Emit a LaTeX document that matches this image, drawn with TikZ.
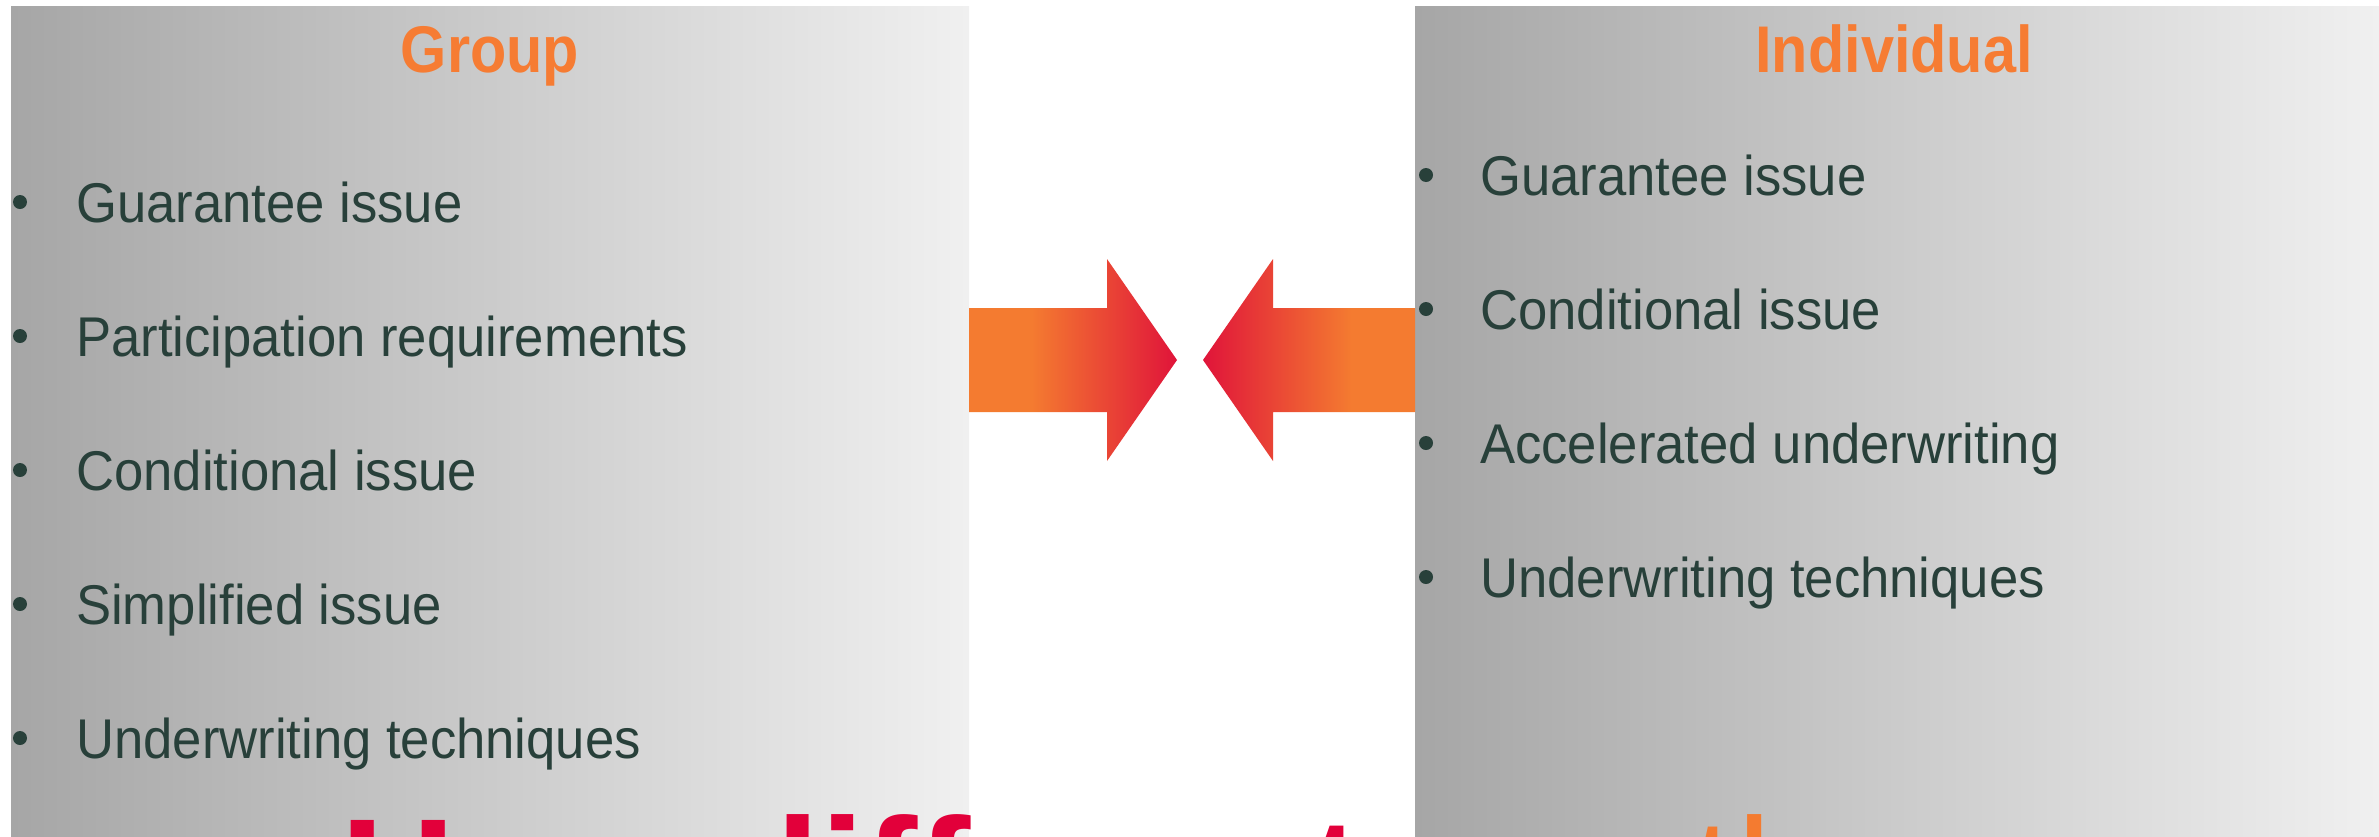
\documentclass[tikz,border=0pt]{standalone}
\usepackage{fontspec}
\setmainfont{Liberation Sans}
\newfontfamily\listfont[FakeStretch=0.94]{Liberation Sans}
\newfontfamily\headfont[FakeStretch=0.9]{Liberation Sans}
\definecolor{panelL}{HTML}{A6A6A6}
\definecolor{panelR}{HTML}{F0F0F0}
\definecolor{aor}{HTML}{F47B30}
\definecolor{ared}{HTML}{E0143A}
\definecolor{tred}{HTML}{E2003A}
\definecolor{txt}{HTML}{28403A}
\definecolor{heador}{HTML}{F67C33}
\pgfdeclarehorizontalshading{arrowright}{100bp}{color(0bp)=(aor); color(25bp)=(aor); color(40bp)=(aor); color(75bp)=(ared); color(100bp)=(ared)}
\pgfdeclarehorizontalshading{arrowleft}{100bp}{color(0bp)=(ared); color(25bp)=(ared); color(60bp)=(aor); color(75bp)=(aor); color(100bp)=(aor)}
\begin{document}
\begin{tikzpicture}[x=1pt,y=-1pt,
  item/.style={font=\listfont\fontsize{56}{62}\selectfont, text=txt, anchor=base west, inner sep=0pt},
  dot/.style={circle, fill=txt, inner sep=0pt, minimum size=14pt},
  head/.style={font=\headfont\bfseries\fontsize{66}{72}\selectfont, text=heador, anchor=base, inner sep=0pt},
  panel/.style={left color=panelL, right color=panelR}]
\useasboundingbox[fill=white] (0,0) rectangle (2379,836);
\clip (0,0) rectangle (2379,836);
% panels
\shade[panel] (11,6) rectangle (969,836);
\shade[panel] (1415,6) rectangle (2379,836);
% arrows
\shade[shading=arrowright] (969,308) -- (1107,308) -- (1107,259) -- (1177,360) -- (1107,461) -- (1107,412) -- (969,412) -- cycle;
\shade[shading=arrowleft] (1415,308) -- (1273,308) -- (1273,259) -- (1203,360) -- (1273,461) -- (1273,412) -- (1415,412) -- cycle;
% headings
\node[head] (group) at (490,72) {Group};
\node[head] (indiv) at (1894,72) {Individual};
% left list
\foreach \t/\y/\n in {Guarantee issue/222/1, Participation requirements/356/2, Conditional issue/490/3, Simplified issue/624/4, Underwriting techniques/758/5}{
  \node[dot] (ld\n) at (20,\y-20) {};
  \node[item] (lt\n) at (76,\y) {\t};
}
% right list
\foreach \t/\y/\n in {Guarantee issue/195/1, Conditional issue/329/2, Accelerated underwriting/463/3, Underwriting techniques/597/4}{
  \node[dot] (rd\n) at (1426,\y-20) {};
  \node[item] (rt\n) at (1480,\y) {\t};
}
% bottom question (cut off by the page edge, as in the reference)
\node[anchor=base west, inner sep=0pt, font=\fontsize{160}{170}\selectfont] (question) at (340,930) {\textcolor{tred}{\bfseries How different are} \textcolor{aor}{they}};
\end{tikzpicture}
\end{document}
